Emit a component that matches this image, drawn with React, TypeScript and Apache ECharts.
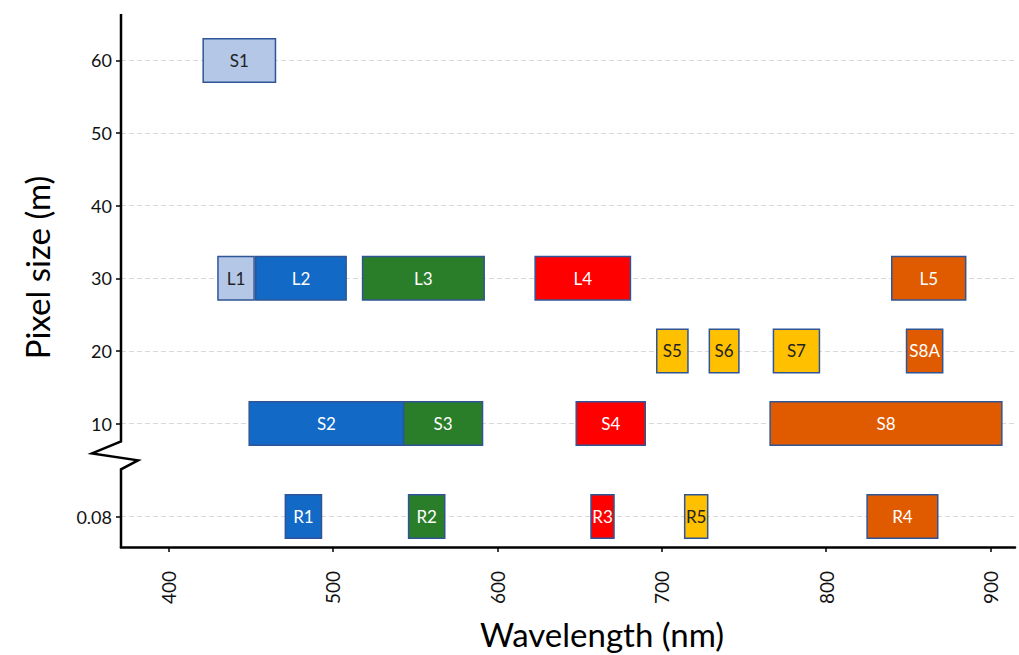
import { useEffect, useRef } from "react";
import * as echarts from "echarts";

// Spectral bands: name, start / end wavelength (nm), pixel size (m), spectral region
const bandNames = ["S1", "L1", "L2", "L3", "L4", "L5", "S5", "S6", "S7", "S8A", "S2", "S3", "S4", "S8", "R1", "R2", "R3", "R5", "R4"];
const bandStart = [421, 430, 453, 518, 623, 840, 697, 729, 768, 849, 449, 543, 648, 766, 471, 546, 657, 714, 825];
const bandEnd = [465, 452, 508, 592, 681, 885, 716, 747, 796, 871, 543, 591, 690, 907, 493, 568, 671, 728, 868];
const bandPixelSize = [60, 30, 30, 30, 30, 30, 20, 20, 20, 20, 10, 10, 10, 10, 0.08, 0.08, 0.08, 0.08, 0.08];
const bandRegion = ["coastal", "coastal", "blue", "green", "red", "nir", "redEdge", "redEdge", "redEdge", "nir", "blue", "green", "red", "nir", "blue", "green", "red", "redEdge", "nir"];

const wavelengthTicks = [400, 500, 600, 700, 800, 900];
const pixelSizeTicks = [0.08, 10, 20, 30, 40, 50, 60];

const regionFill: Record<string, string> = {
  coastal: "#b4c7e7",
  blue: "#1269c6",
  green: "#2a7e2a",
  red: "#ff0000",
  redEdge: "#ffc000",
  nir: "#e05a00",
};
const regionText: Record<string, string> = {
  coastal: "#222222",
  redEdge: "#222222",
};

const FONT = "Lato, 'Noto Sans', sans-serif";
const X_MIN = 371;
const X_MAX = 915;
const Y_MIN = -7;
const Y_MAX = 66.4;
// The axis is broken below 10 m: the sub-metre row sits at this position
const BREAK_ROW = -2.8;
const toAxisY = (v: number) => (v < 1 ? BREAK_ROW : v);
const BAR_HEIGHT = 6;

export default function App() {
  const ref = useRef<HTMLDivElement>(null);

  useEffect(() => {
    if (!ref.current) return;
    const chart = echarts.init(ref.current, undefined, { renderer: "svg" });
    const yTickValues = pixelSizeTicks.map(toAxisY);

    chart.setOption({
      animation: false,
      backgroundColor: "#ffffff",
      textStyle: { fontFamily: FONT },
      grid: { left: 121, right: 4, top: 14, bottom: 105 },
      xAxis: {
        type: "value",
        min: X_MIN,
        max: X_MAX,
        name: "Wavelength (nm)",
        nameLocation: "middle",
        nameGap: 70,
        nameTextStyle: { fontSize: 33, color: "#000", fontFamily: FONT, padding: [0, 0, 0, 68] },
        axisLine: { show: true, onZero: false, lineStyle: { color: "#000", width: 2.5 } },
        axisTick: { show: true, length: 5, customValues: wavelengthTicks, lineStyle: { color: "#000", width: 1.5 } },
        axisLabel: {
          customValues: wavelengthTicks,
          rotate: 90,
          margin: 24,
          fontSize: 19,
          color: "#111",
          fontFamily: FONT,
        },
        splitLine: { show: false },
      },
      yAxis: {
        type: "value",
        min: Y_MIN,
        max: Y_MAX,
        name: "Pixel size (m)",
        nameLocation: "middle",
        nameGap: 68,
        nameTextStyle: { fontSize: 33, color: "#000", fontFamily: FONT, padding: [0, 0, 0, 26] },
        axisLine: { show: false },
        axisTick: { show: true, length: 5, customValues: yTickValues, lineStyle: { color: "#000", width: 1.5 } },
        axisLabel: {
          customValues: yTickValues,
          margin: 9,
          fontSize: 18,
          color: "#111",
          fontFamily: FONT,
          formatter: (v: number) => (v < 0 ? "0.08" : String(Math.round(v))),
        },
        splitLine: { show: true, lineStyle: { color: "#d9d9d9", type: [5, 3], width: 1 } },
      },
      series: [
        {
          type: "custom",
          encode: { x: [0, 1], y: 2 },
          data: bandNames.map((_, i) => [bandStart[i], bandEnd[i], toAxisY(bandPixelSize[i])]),
          renderItem: (params: any, api: any) => {
            const i = params.dataIndex;
            const y = api.value(2);
            const p0 = api.coord([api.value(0), y]);
            const p1 = api.coord([api.value(1), y]);
            const h = api.size([0, BAR_HEIGHT])[1];
            const region = bandRegion[i];
            return {
              type: "rect",
              shape: { x: p0[0], y: p0[1] - h / 2, width: p1[0] - p0[0], height: h },
              style: { fill: regionFill[region], stroke: "#2f5597", lineWidth: 1.5 },
              textContent: {
                style: {
                  text: bandNames[i],
                  fill: regionText[region] || "#ffffff",
                  fontSize: 17,
                  fontFamily: FONT,
                },
              },
              textConfig: { position: "inside" },
            };
          },
        },
      ],
    });

    // Y axis line with a zig-zag break mark between 0.08 and 10
    const ax = chart.convertToPixel({ xAxisIndex: 0 }, X_MIN) as number;
    const py = (v: number) => chart.convertToPixel({ yAxisIndex: 0 }, v) as number;
    chart.setOption({
      graphic: [
        {
          type: "polyline",
          shape: {
            points: [
              [ax, py(Y_MAX)],
              [ax, py(7.53)],
              [ax - 29, py(5.89)],
              [ax + 17, py(4.93)],
              [ax, py(3.7)],
              [ax, py(Y_MIN) + 1.2],
            ],
          },
          style: { stroke: "#000", lineWidth: 2.5, fill: null },
          z: 10,
        },
      ],
    });

    return () => chart.dispose();
  }, []);

  return (
    <div
      ref={ref}
      style={{ position: "fixed", left: 0, top: 0, width: 1019, height: 655, background: "#fff" }}
    />
  );
}
